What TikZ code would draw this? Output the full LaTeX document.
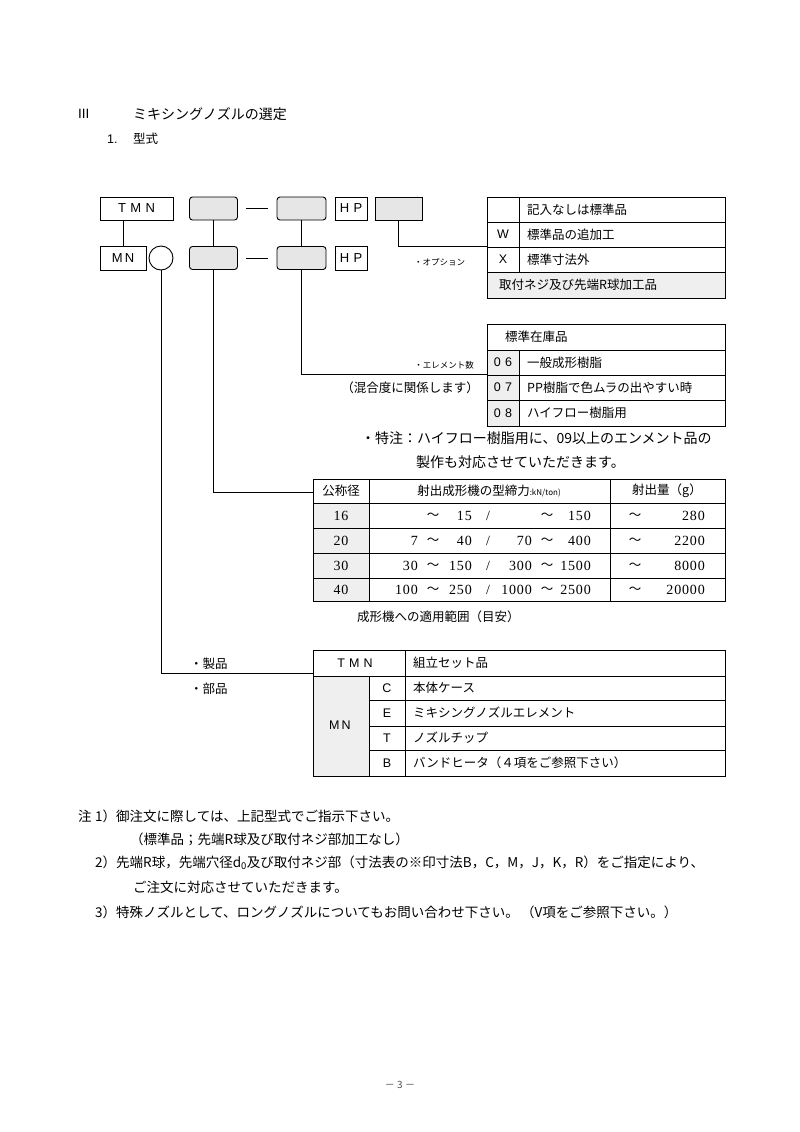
\documentclass[tikz,border=0pt]{standalone}
\usepackage{fontspec}
\setmainfont{Liberation Serif}
\newfontfamily\jp{Noto Sans CJK JP}
\newfontfamily\ar{Liberation Sans}
\newfontfamily\numfont[LetterSpace=6]{Liberation Serif}
\usepackage{tikz}
\usetikzlibrary{positioning,calc}
\definecolor{Cell}{HTML}{EFEFEF}
\definecolor{Slot}{HTML}{E6E6E6}
\tikzset{
  codebox/.style={draw,line width=0.9pt,inner sep=0pt,minimum height=23,font=\ar\fontsize{13}{15}\selectfont},
  slotbox/.style={draw,line width=0.9pt,rounded corners=3pt,fill=Slot,inner sep=0pt,minimum width=48,minimum height=23},
  txt/.style={inner sep=0pt,anchor=west,font=\jp\fontsize{12.5}{14}\selectfont},
  smalltxt/.style={inner sep=0pt,font=\jp\fontsize{8.5}{10}\selectfont},
  note/.style={inner sep=0pt,anchor=west,font=\jp\fontsize{13.5}{16}\selectfont},
  num/.style={inner sep=0pt,font=\numfont\fontsize{14}{16}\selectfont},
  letter/.style={inner sep=0pt,font=\ar\fontsize{12.5}{14}\selectfont},
  link/.style={line width=0.9pt},
  grid/.style={line width=0.9pt}
}
\begin{document}
\begin{tikzpicture}[x=1pt,y=-1pt]
  \useasboundingbox[fill=white] (0,0) rectangle (800,1132);

  % heading
  \node[letter,anchor=west,font=\ar\fontsize{13.5}{15}\selectfont] (sec) at (78,114) {III};
  \node[txt,font=\jp\fontsize{14}{16}\selectfont] (title) at (133,114) {ミキシングノズルの選定};
  \node[letter,anchor=west] (subno) at (107,139) {1.};
  \node[txt] (subtitle) at (133,139) {型式};

  % code boxes
  \node[codebox,minimum width=73] (tmn) at (136.5,208.5) {T\,\,M\,\,N};
  \node[slotbox] (sa1) at (213.5,208.5) {};
  \node[slotbox,minimum width=49] (sb1) at (301.5,208.5) {};
  \node[codebox,minimum width=32] (hp1) at (351,208.5) {H\,\,P};
  \node[codebox,minimum width=47,fill=Slot] (opt) at (398.5,208.5) {};

  \node[codebox,minimum width=46,minimum height=24] (mn) at (123,258) {M\,N};
  \node[draw,circle,line width=0.9pt,minimum size=24,inner sep=0pt] (size) at (161,258) {};
  \node[slotbox] (sa2) at (213.5,258) {};
  \node[slotbox,minimum width=49] (sb2) at (301.5,258) {};
  \node[codebox,minimum width=32,minimum height=24] (hp2) at (351,258) {H\,\,P};

  \draw[link] (tmn.south -| mn) -- (mn.north);
  \draw[link] (sa1) -- (sa2);
  \draw[link] (sb1) -- (sb2);
  \draw[link] ([xshift=8]sa1.east) -- ([xshift=-9]sb1.west);
  \draw[link] ([xshift=8]sa2.east) -- ([xshift=-9]sb2.west);

  % option table
  \coordinate (optin) at (487,246);
  \fill[Cell] (487,272) rectangle (725,298);
  \draw[grid] (487,197) rectangle (725,298);
  \foreach \y in {222,247,272} \draw[grid] (487,\y) -- (725,\y);
  \draw[grid] (519,197) -- (519,272);
  \node[txt] (o1) at (527,209.5) {記入なしは標準品};
  \node[letter] (ow) at (503,234.5) {W};
  \node[txt] (o2) at (527,234.5) {標準品の追加工};
  \node[letter] (ox) at (503,259.5) {X};
  \node[txt] (o3) at (527,259.5) {標準寸法外};
  \node[txt] (o4) at (499,285) {取付ネジ及び先端R球加工品};
  \node[smalltxt,anchor=west] (optlbl) at (414,262) {・オプション};
  \draw[link] (opt.south) |- (optin);

  % element table
  \coordinate (elin) at (487,374);
  \fill[Cell] (487,350) rectangle (519,426);
  \draw[grid] (487,324) rectangle (725,426);
  \foreach \y in {350,375,400} \draw[grid] (487,\y) -- (725,\y);
  \draw[grid] (519,350) -- (519,426);
  \node[txt] (e0) at (505,337) {標準在庫品};
  \node[letter] (e6n) at (503,362.5) {0\,\,6};
  \node[txt] (e6) at (527,362.5) {一般成形樹脂};
  \node[letter] (e7n) at (503,387.5) {0\,\,7};
  \node[txt] (e7) at (527,387.5) {PP樹脂で色ムラの出やすい時};
  \node[letter] (e8n) at (503,413) {0\,\,8};
  \node[txt] (e8) at (527,413) {ハイフロー樹脂用};
  \node[smalltxt,anchor=east] (ellbl) at (474,365) {・エレメント数};
  \node[txt,anchor=east] (elnote) at (479,388) {（混合度に関係します）};
  \node[txt,anchor=west,font=\jp\fontsize{14}{16}\selectfont] (sp1) at (361,438) {・特注：ハイフロー樹脂用に、09以上のエンメント品の};
  \node[txt,anchor=west,font=\jp\fontsize{14}{16}\selectfont] (sp2) at (416,462) {製作も対応させていただきます。};
  \draw[link] (sb2.south) |- (elin);

  % molding machine table
  \coordinate (mdin) at (313,492);
  \fill[Cell] (313,503) rectangle (369,601);
  \draw[grid] (313,479) rectangle (725,601);
  \foreach \y in {503,528,553,578} \draw[grid] (313,\y) -- (725,\y);
  \draw[grid] (369,479) -- (369,601);
  \draw[grid] (610,479) -- (610,601);
  \node[txt,anchor=center] (h1) at (341,491) {公称径};
  \node[txt,anchor=center] (h2) at (489,491) {射出成形機の型締力{\fontsize{8}{9}\selectfont :kN/ton)}};
  \node[txt,anchor=center] (h3) at (667,491) {射出量（g）};
  \foreach \y/\n/\a/\b/\c/\d/\s in {516/16/{}/15/{}/150/280,541/20/7/40/70/400/2200,566/30/30/150/300/1500/8000,590/40/100/250/1000/2500/20000}{
    \node[num] (d\n) at (341,\y) {\n};
    \node[num,anchor=east] (a\n) at (418,\y) {\a};
    \node[txt,anchor=center] (ta\n) at (433,\y) {～};
    \node[num,anchor=east] (b\n) at (472,\y) {\b};
    \node[num] (sl\n) at (488,\y) {/};
    \node[num,anchor=east] (c\n) at (532,\y) {\c};
    \node[txt,anchor=center] (tc\n) at (547,\y) {～};
    \node[num,anchor=east] (e\n) at (591,\y) {\d};
    \node[txt,anchor=center] (ts\n) at (635,\y) {～};
    \node[num,anchor=east] (s\n) at (705,\y) {\s};
  }
  \node[txt] (range) at (357,617) {成形機への適用範囲（目安）};
  \draw[link] (sa2.south) |- (mdin);

  % product table
  \coordinate (prin) at (313,673);
  \fill[Cell] (313,676) rectangle (369,776);
  \draw[grid] (313,650) rectangle (725,776);
  \draw[grid] (313,676) -- (725,676);
  \foreach \y in {700,726,750} \draw[grid] (369,\y) -- (725,\y);
  \draw[grid] (369,676) -- (369,776);
  \draw[grid] (405,650) -- (405,776);
  \node[letter] (ptmn) at (355,663) {T\,\,M\,\,N};
  \node[txt] (p0) at (413,663) {組立セット品};
  \node[letter] (pmn) at (340,725.5) {M\,N};
  \foreach \y/\k/\t in {688/C/本体ケース,713/E/ミキシングノズルエレメント,738/T/ノズルチップ,763/B/バンドヒータ（４項をご参照下さい）}{
    \node[letter] (pk\k) at (387,\y) {\k};
    \node[txt] (pt\k) at (413,\y) {\t};
  }
  \node[txt] (prod) at (190,664) {・製品};
  \node[txt] (part) at (190,689) {・部品};
  \draw[link] (size.south) |- (prin);

  % notes
  \node[note] (n0) at (78,816) {注};
  \node[note] (n1) at (95,816) {1）御注文に際しては、上記型式でご指示下さい。};
  \node[note] (n1b) at (130,839) {（標準品；先端R球及び取付ネジ部加工なし）};
  \node[note] (n2) at (95,863) {2）先端R球，先端穴径d\textsubscript{0}及び取付ネジ部（寸法表の※印寸法B，C，M，J，K，R）をご指定により、};
  \node[note] (n2b) at (133,887) {ご注文に対応させていただきます。};
  \node[note] (n3) at (95,912) {3）特殊ノズルとして、ロングノズルについてもお問い合わせ下さい。\,（V項をご参照下さい。）};

  \node[inner sep=0pt,font=\jp\fontsize{10}{12}\selectfont,text=black!70] (page) at (400,1085) {－ 3 －};
\end{tikzpicture}
\end{document}
